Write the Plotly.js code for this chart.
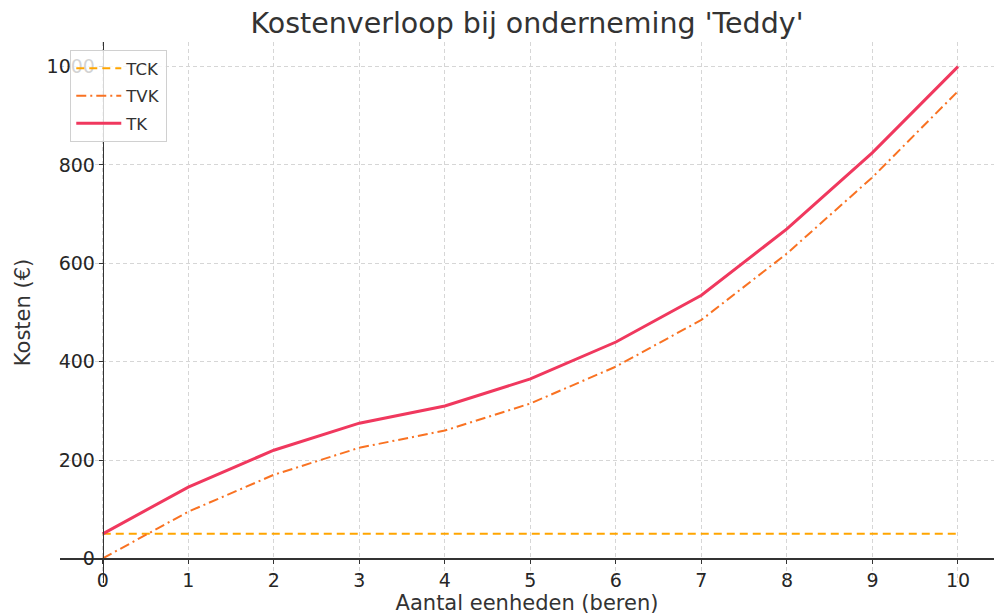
<!DOCTYPE html>
<html>
<head>
<meta charset="utf-8">
<script src="https://cdn.plot.ly/plotly-3.0.1.min.js"></script>
<style>
  html, body { margin: 0; padding: 0; background: #fff; }
  #chart { width: 994px; height: 615px; }
</style>
</head>
<body>
<div id="chart"></div>
<script>
// units produced (bears)
const units = [0, 1, 2, 3, 4, 5, 6, 7, 8, 9, 10];

// total constant costs, total variable costs, total costs (EUR)
const tck = [50, 50, 50, 50, 50, 50, 50, 50, 50, 50, 50];
const tvk = [0, 95, 170, 225, 260, 315, 390, 485, 620, 775, 950];
const tk = [50, 145, 220, 275, 310, 365, 440, 535, 670, 825, 1000];

const seriesNames = ['TCK', 'TVK', 'TK'];
const yTicks = [0, 200, 400, 600, 800, 1000];

const font = 'DejaVu Sans, Liberation Sans, sans-serif';

// axis ranges, matplotlib style 5% padding, spines crossing at zero
const xRange = [-0.5, 10.421];
const yRange = [-50, 1050];
const xAxisPos = (0 - yRange[0]) / (yRange[1] - yRange[0]);
const yAxisPos = (0 - xRange[0]) / (xRange[1] - xRange[0]);

const traces = [
	{
		x: units, y: tck, name: seriesNames[0], legendgroup: 'a',
		type: 'scatter', mode: 'lines',
		line: { color: '#FFA500', width: 2, dash: '8px,5px' },
	},
	{
		x: units, y: tvk, name: seriesNames[1], legendgroup: 'b',
		type: 'scatter', mode: 'lines',
		line: { color: '#F97222', width: 2, dash: '10px,4px,2px,4px' },
	},
	{
		x: units, y: tk, name: seriesNames[2], legendgroup: 'c',
		type: 'scatter', mode: 'lines',
		line: { color: '#F0385E', width: 3 },
	},
];

const layout = {
	width: 994,
	height: 615,
	margin: { l: 60, r: 0, t: 42, b: 32 },
	paper_bgcolor: '#fff',
	plot_bgcolor: '#fff',
	font: { family: font, color: '#262626', size: 16 },
	title: {
		text: "Kostenverloop bij onderneming 'Teddy'",
		font: { family: font, size: 28.5, color: '#333' },
		xref: 'paper', x: 0.5, xanchor: 'center',
		y: 0.963, yanchor: 'middle',
	},
	xaxis: {
		range: xRange,
		tickvals: units,
		anchor: 'free',
		position: xAxisPos,
		showline: true, linecolor: '#333', linewidth: 1.5,
		ticks: 'outside', ticklen: 4, tickcolor: '#333',
		showgrid: true, gridcolor: '#d6d6d6', griddash: '4px,3px', gridwidth: 1,
		zeroline: false,
		tickfont: { size: 19, color: '#262626' },
		title: { text: 'Aantal eenheden (beren)', font: { size: 21, color: '#333' }, standoff: 0 },
	},
	yaxis: {
		range: yRange,
		tickvals: yTicks,
		anchor: 'free',
		position: yAxisPos,
		showline: true, linecolor: '#333', linewidth: 1.5,
		ticks: 'outside', ticklen: 4, tickcolor: '#333',
		showgrid: true, gridcolor: '#d6d6d6', griddash: '4px,3px', gridwidth: 1,
		zeroline: false,
		tickfont: { size: 19, color: '#262626' },
	},
	annotations: [
		{
			text: 'Kosten (€)',
			xref: 'paper', yref: 'paper',
			x: -0.04, y: 0.5, xanchor: 'center', yanchor: 'middle',
			textangle: -90, showarrow: false,
			font: { size: 21, color: '#333' },
		},
	],
	showlegend: true,
	legend: {
		x: 0.011, y: 0.985, xanchor: 'left', yanchor: 'top',
		bgcolor: 'rgba(255,255,255,0.8)',
		bordercolor: '#d0d0d0', borderwidth: 1,
		font: { size: 16.5, color: '#333' },
		traceorder: 'grouped',
		tracegroupgap: 3,
		itemwidth: 45,
	},
};

Plotly.newPlot('chart', traces, layout, { displayModeBar: false, staticPlot: true });
</script>
</body>
</html>
